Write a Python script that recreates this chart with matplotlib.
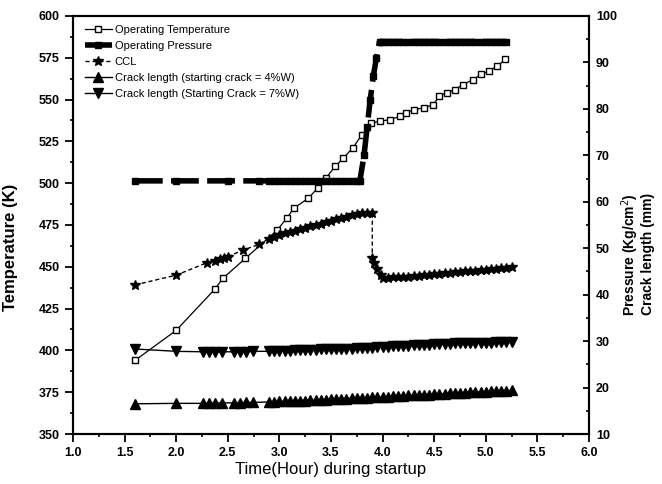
import matplotlib.pyplot as plt
from matplotlib.ticker import MultipleLocator, FormatStrFormatter

plt.rcParams['font.family'] = ['Liberation Sans', 'DejaVu Sans']

# operating temperature (K) - left axis
t_temp = [1.6, 2.0, 2.38, 2.45, 2.67, 2.98, 3.07, 3.14, 3.28, 3.37, 3.45, 3.54, 3.62, 3.71,
          3.8, 3.89, 3.97, 4.07, 4.17, 4.23, 4.3, 4.4, 4.49, 4.55, 4.62, 4.7, 4.78, 4.88,
          4.95, 5.03, 5.11, 5.19]
temp = [394, 412, 437, 443, 455, 472, 479, 485, 491, 497, 503, 510, 515, 521,
        529, 536, 537, 538, 540, 542, 544, 545, 547, 552, 554, 556, 559, 562,
        565, 567, 570, 574]

# operating pressure (Kg/cm2) - right axis
t_pres = [1.6, 2.0, 2.5, 2.8, 2.9, 2.95, 3.0, 3.05, 3.1, 3.15, 3.2, 3.25, 3.3, 3.35, 3.4,
          3.45, 3.5, 3.55, 3.6, 3.65, 3.7, 3.75, 3.78, 3.82, 3.85, 3.88, 3.91, 3.94, 3.97,
          4.0, 4.05, 4.1, 4.15, 4.2, 4.25, 4.3, 4.35, 4.4, 4.45, 4.5, 4.55, 4.6, 4.65,
          4.7, 4.75, 4.8, 4.85, 4.9, 4.95, 5.0, 5.05, 5.1, 5.15, 5.2]
pres = [64.5, 64.5, 64.5, 64.5, 64.5, 64.5, 64.5, 64.5, 64.5, 64.5, 64.5, 64.5, 64.5, 64.5, 64.5,
        64.5, 64.5, 64.5, 64.5, 64.5, 64.5, 64.5, 64.5, 70, 76, 82, 87, 91, 94.5,
        94.5, 94.5, 94.5, 94.5, 94.5, 94.5, 94.5, 94.5, 94.5, 94.5, 94.5, 94.5, 94.5, 94.5,
        94.5, 94.5, 94.5, 94.5, 94.5, 94.5, 94.5, 94.5, 94.5, 94.5, 94.5]

# critical crack length (mm) - right axis
t_ccl = [1.6, 2.0, 2.3, 2.38, 2.42, 2.46, 2.5, 2.65, 2.8, 2.9, 2.95, 3.0, 3.05, 3.1, 3.15,
         3.2, 3.25, 3.3, 3.35, 3.4, 3.45, 3.5, 3.55, 3.6, 3.65, 3.7, 3.75, 3.8, 3.85, 3.9,
         3.9, 3.92, 3.95, 3.98, 4.0, 4.05, 4.1, 4.15, 4.2, 4.25, 4.3, 4.35, 4.4, 4.45, 4.5,
         4.55, 4.6, 4.65, 4.7, 4.75, 4.8, 4.85, 4.9, 4.95, 5.0, 5.05, 5.1, 5.15, 5.2, 5.25]
ccl = [42.1, 44.2, 46.9, 47.3, 47.6, 47.9, 48.2, 49.6, 50.8, 52.0, 52.5, 52.9, 53.2, 53.5, 53.8,
       54.1, 54.4, 54.7, 55.0, 55.3, 55.6, 55.9, 56.2, 56.5, 56.8, 57.1, 57.4, 57.6, 57.6, 57.6,
       48.0, 46.8, 45.5, 44.2, 43.6, 43.6, 43.7, 43.7, 43.8, 43.9, 44.0, 44.1, 44.2, 44.3, 44.4,
       44.5, 44.6, 44.7, 44.8, 44.9, 45.0, 45.1, 45.2, 45.3, 45.4, 45.5, 45.6, 45.7, 45.8, 45.9]

# crack length growth (mm) - right axis
t_crack = [1.6, 2.0, 2.26, 2.32, 2.38, 2.44, 2.56, 2.62, 2.68, 2.74,
           2.9, 2.95, 3.0, 3.05, 3.1, 3.15, 3.2, 3.25, 3.3, 3.35, 3.4,
           3.45, 3.5, 3.55, 3.6, 3.65, 3.7, 3.75, 3.8, 3.85, 3.9, 3.95,
           4.0, 4.05, 4.1, 4.15, 4.2, 4.25, 4.3, 4.35, 4.4, 4.45, 4.5,
           4.55, 4.6, 4.65, 4.7, 4.75, 4.8, 4.85, 4.9, 4.95, 5.0, 5.05,
           5.1, 5.15, 5.2, 5.25]
crack_a = [16.5, 16.6, 16.6, 16.6, 16.7, 16.7, 16.7, 16.7, 16.8, 16.8,
           16.9, 16.9, 17.0, 17.0, 17.1, 17.1, 17.2, 17.2, 17.3, 17.3, 17.4,
           17.4, 17.5, 17.5, 17.6, 17.6, 17.7, 17.7, 17.8, 17.8, 17.9, 17.9,
           18.0, 18.0, 18.1, 18.1, 18.2, 18.3, 18.3, 18.4, 18.5, 18.5, 18.6,
           18.6, 18.7, 18.8, 18.8, 18.9, 18.9, 19.0, 19.0, 19.1, 19.1, 19.2,
           19.2, 19.3, 19.3, 19.4]
crack_b = [28.3, 27.8, 27.7, 27.7, 27.7, 27.7, 27.7, 27.7, 27.7, 27.8,
           27.8, 27.8, 27.9, 27.9, 27.9, 28.0, 28.0, 28.0, 28.1, 28.1, 28.2,
           28.2, 28.3, 28.3, 28.3, 28.4, 28.4, 28.5, 28.5, 28.6, 28.6, 28.7,
           28.8, 28.8, 28.9, 28.9, 29.0, 29.0, 29.1, 29.1, 29.2, 29.2, 29.3,
           29.3, 29.4, 29.4, 29.5, 29.5, 29.5, 29.6, 29.6, 29.7, 29.7, 29.7,
           29.8, 29.8, 29.9, 29.9]

labels = ['Operating Temperature', 'Operating Pressure', 'CCL',
          'Crack length (starting crack = 4%W)', 'Crack length (Starting Crack = 7%W)']

fig = plt.figure(figsize=(6.62, 4.84), dpi=100)
ax = fig.add_axes([0.1103, 0.1033, 0.7794, 0.8637])
ax2 = ax.twinx()

h1, = ax.plot(t_temp, temp, color='black', lw=0.9, marker='s', ms=4.5,
              mfc='white', mec='black', mew=1.0)
h2, = ax2.plot(t_pres, pres, color='black', lw=4, ls=(0, (5, 1.5)), marker='s', ms=5)
h3, = ax2.plot(t_ccl, ccl, color='black', lw=1.0, ls=(0, (3, 2)), marker='*', ms=7)
h4, = ax2.plot(t_crack, crack_a, color='black', lw=1.0, marker='^', ms=7)
h5, = ax2.plot(t_crack, crack_b, color='black', lw=1.0, marker='v', ms=7)

ax.set_xlim(1.0, 6.0)
ax.set_ylim(350, 600)
ax2.set_ylim(10, 100)

ax.xaxis.set_major_locator(MultipleLocator(0.5))
ax.xaxis.set_minor_locator(MultipleLocator(0.25))
ax.xaxis.set_major_formatter(FormatStrFormatter('%.1f'))
ax.yaxis.set_major_locator(MultipleLocator(25))
ax.yaxis.set_minor_locator(MultipleLocator(12.5))
ax2.yaxis.set_major_locator(MultipleLocator(10))
ax2.yaxis.set_minor_locator(MultipleLocator(5))

ax.tick_params(which='major', direction='out', length=6, width=1.3, labelsize=9)
ax.tick_params(which='minor', direction='out', length=2.5, width=1.2)
ax2.tick_params(which='major', direction='in', length=4, width=1.3, labelsize=9, pad=5)
ax2.tick_params(which='minor', direction='in', length=2, width=1.2)
for lab in ax.get_xticklabels() + ax.get_yticklabels() + ax2.get_yticklabels():
    lab.set_fontweight('bold')

for a in (ax, ax2):
    for s in a.spines.values():
        s.set_linewidth(1.5)

ax.set_xlabel('Time(Hour) during startup', fontsize=12, labelpad=2)
ax.set_ylabel('Temperature (K)', fontsize=12, fontweight='bold')
ax.yaxis.set_label_coords(-0.106, 0.447)
ax2.set_ylabel('Pressure (Kg/cm$^2$)\nCrack length (mm)', fontsize=10, fontweight='bold',
               linespacing=1.0)
ax2.yaxis.set_label_coords(1.058, 0.43)

ax.legend([h1, h2, h3, h4, h5], labels, loc='upper left', bbox_to_anchor=(0.01, 0.995),
          frameon=False, fontsize=8, handlelength=2.4, handletextpad=0.3,
          labelspacing=0.55, borderaxespad=0.2)

fig.savefig('out.png', dpi=100)
